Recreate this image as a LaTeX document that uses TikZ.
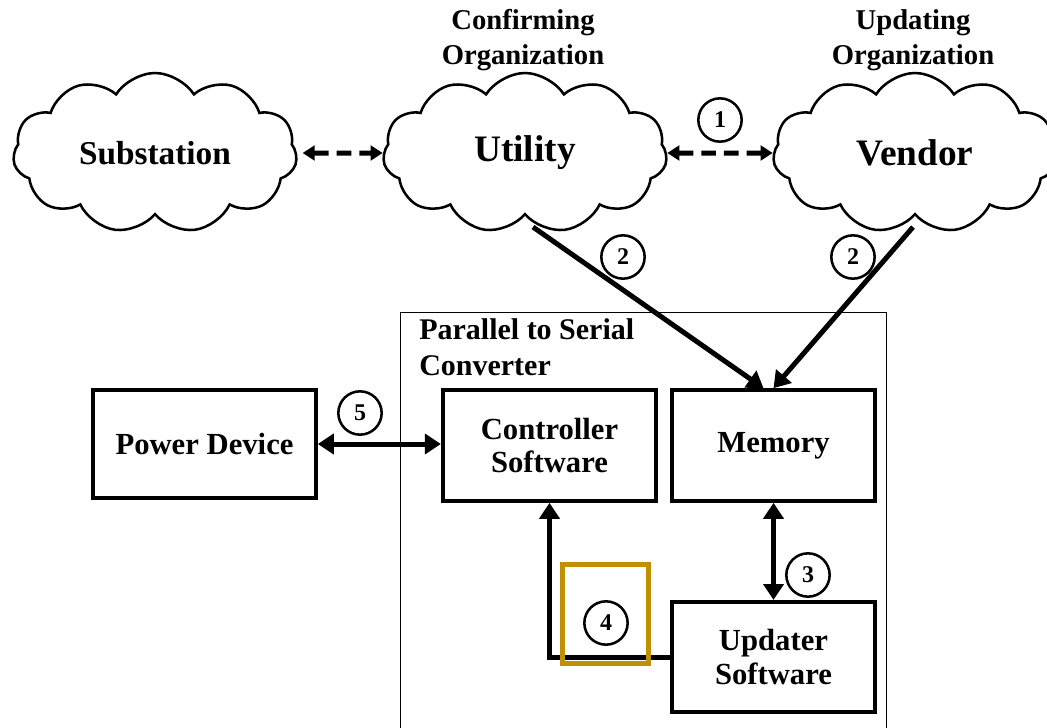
\documentclass[tikz,border=0pt]{standalone}
\usepackage{fontspec}
\setmainfont{Liberation Serif}
\usetikzlibrary{shapes.symbols,arrows.meta,calc}
\definecolor{gold}{RGB}{191,144,0}
\tikzset{
  cloudnode/.style={shape=cloud, draw, cloud puffs=11, cloud puff arc=115, aspect=1.8,
    line width=1.9pt, minimum width=213pt, minimum height=120pt, font=\bfseries, inner sep=0pt},
  boxnode/.style={draw, line width=3pt, align=center, font=\fontsize{23}{25}\selectfont\bfseries},
  numcirc/.style={circle, draw, line width=1.9pt, minimum size=32.5pt, inner sep=0pt,
    font=\fontsize{18}{18}\selectfont\bfseries},
  conn/.style={line width=3.75pt},
  tip/.style={-{Triangle[length=12pt,width=15pt]}},
  bitip/.style={{Triangle[length=12pt,width=15pt]}-{Triangle[length=12pt,width=15pt]}},
  dashconn/.style={line width=3.75pt, dash pattern=on 11pt off 6pt,
    {Triangle[length=9pt,width=11pt]}-{Triangle[length=9pt,width=11pt]}},
  orglabel/.style={align=center, font=\fontsize{21.5}{26}\selectfont\bfseries}
}
\begin{document}
\begin{tikzpicture}[x=0.75pt,y=-0.75pt]
\useasboundingbox (0,0) rectangle (1047,728);
\clip (0,0) rectangle (1047,728);
% outer container
\node[draw, line width=1.1pt, minimum width=364.5pt, minimum height=320pt, anchor=north west, inner sep=0pt] (outer) at (400,312) {};
\node[anchor=north west, align=left, inner sep=0pt, font=\fontsize{22.5}{27}\selectfont\bfseries] (ptitle) at (419,318) {Parallel to Serial\\Converter};
% clouds
\node[cloudnode, font=\fontsize{25}{25}\selectfont\bfseries] (sub) at (155,153) {Substation};
\node[cloudnode, font=\fontsize{28}{28}\selectfont\bfseries] (util) at (525,153) {\raisebox{-3pt}{Utility}};
\node[cloudnode, font=\fontsize{28}{28}\selectfont\bfseries] (vend) at (915,153) {Vendor};
\node[orglabel] (conf) at (523,40) {Confirming\\Organization};
\node[orglabel] (upd) at (913,40) {Updating\\Organization};
% boxes
\node[boxnode, minimum width=160pt, minimum height=83pt] (ctrl) at (549.5,445.5) {Controller\\Software};
\node[boxnode, minimum width=152pt, minimum height=83pt] (mem) at (773.5,445.5) {Memory};
\node[boxnode, minimum width=152pt, minimum height=82.5pt] (updr) at (773.5,657) {Updater\\Software};
\node[boxnode, minimum width=167pt, minimum height=81pt] (pow) at (204.5,444) {Power Device};
% connectors
\draw[dashconn, shorten <=4pt] (sub.east) -- (util.west);
\draw[dashconn] (util.east) -- (vend.west);
\draw[conn, tip] ($(util.south)+(8,11)$) -- ($(mem.north)+(-10,0)$);
\draw[conn, tip] ($(vend.south)+(-2,11)$) -- (mem.north);
\draw[conn, bitip] (mem.south) -- (updr.north);
\draw[conn, tip] (updr.west) -| (ctrl.south);
\draw[conn, bitip] (pow.east) -- (ctrl.west |- pow.east);
% highlight
\node[draw=gold, line width=3.75pt, minimum width=64pt, minimum height=74pt, inner sep=0pt] (hl) at (605.5,614) {};
% number circles
\node[numcirc] (n1) at (720,120) {1};
\node[numcirc] (n2a) at (623,257) {2};
\node[numcirc] (n2b) at (853,257) {2};
\node[numcirc] (n3) at (808,575) {3};
\node[numcirc] (n4) at (606,623) {4};
\node[numcirc] (n5) at (360,413) {5};
\end{tikzpicture}
\end{document}
